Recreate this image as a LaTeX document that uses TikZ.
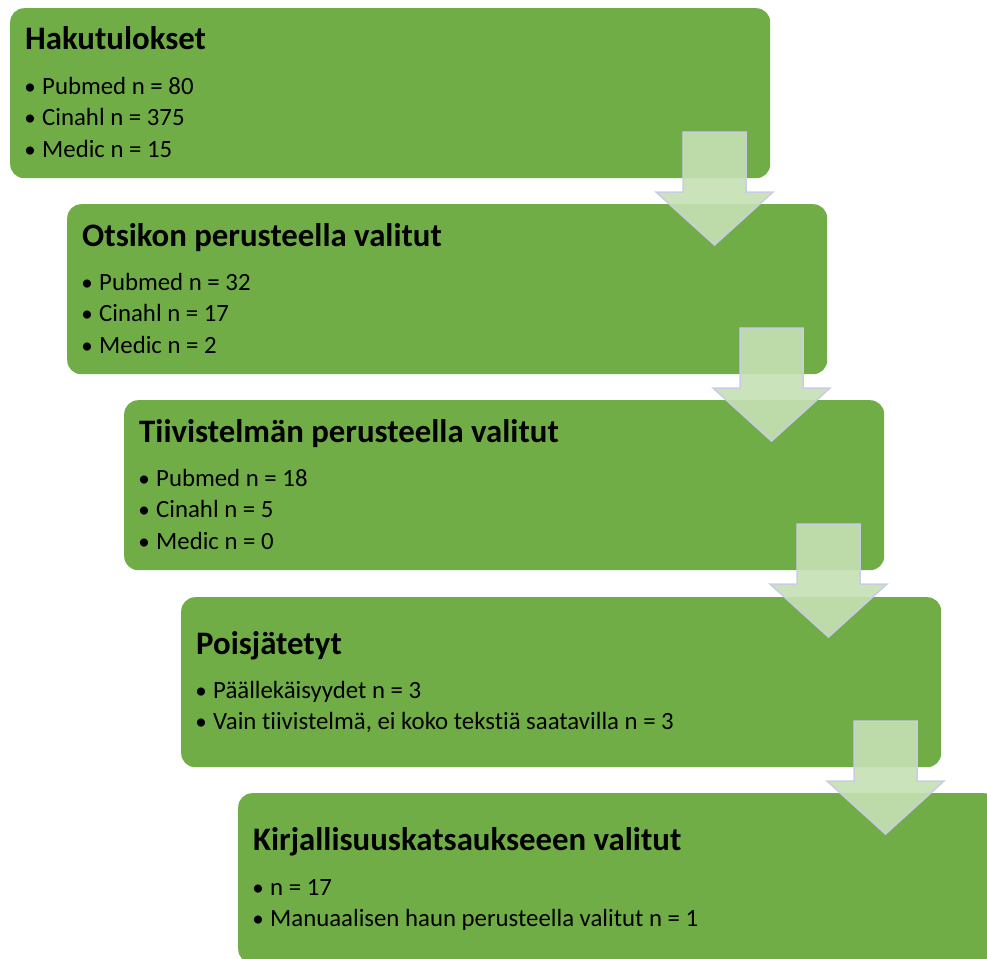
\documentclass[tikz,border=0pt]{standalone}
\usepackage{fontspec}
\setmainfont{Carlito}[Ligatures={NoCommon}]
\usetikzlibrary{calc}
\definecolor{boxgreen}{HTML}{70AD47}
\definecolor{arrowfill}{HTML}{C5E0B4}
\definecolor{arrowline}{HTML}{C9CCE4}
\tikzset{
  box/.style={fill=boxgreen, draw=none, rounded corners=14pt, minimum width=760pt, minimum height=170pt, inner sep=0pt, anchor=north west},
  ttl/.style={anchor=base west, inner sep=0pt, font=\fontsize{32.8}{38}\selectfont\bfseries},
  itm/.style={anchor=base west, inner sep=0pt, font=\fontsize{24.8}{29}\selectfont},
  dot/.style={anchor=base, inner sep=0pt, font=\fontsize{23}{27}\selectfont},
  blockarrow/.style={fill=arrowfill, fill opacity=0.9, draw=arrowline, line width=1.5pt, line join=miter}
}
\begin{document}
\begin{tikzpicture}[x=1pt, y=-1pt]
\useasboundingbox (0,0) rectangle (987,958);
\clip (0,0) rectangle (987,958);
% boxes
\node[box] (b1) at (10,8) {};
\node[box] (b2) at (67,204) {};
\node[box] (b3) at (124,400) {};
\node[box] (b4) at (181,597) {};
\node[box] (b5) at (238,793) {};
% box 1
\node[ttl] (t1) at ($(b1.north west)+(15,42)$) {Hakutulokset};
\node[dot] (d1a) at ($(b1.north west)+(20,86)$) {•};
\node[itm] (i1a) at ($(b1.north west)+(32,86)$) {Pubmed n = 80};
\node[dot] (d1b) at ($(b1.north west)+(20,117.5)$) {•};
\node[itm] (i1b) at ($(b1.north west)+(32,117.5)$) {Cinahl n = 375};
\node[dot] (d1c) at ($(b1.north west)+(20,149)$) {•};
\node[itm] (i1c) at ($(b1.north west)+(32,149)$) {Medic n = 15};
% box 2
\node[ttl] (t2) at ($(b2.north west)+(15,42)$) {Otsikon perusteella valitut};
\node[dot] (d2a) at ($(b2.north west)+(20,86)$) {•};
\node[itm] (i2a) at ($(b2.north west)+(32,86)$) {Pubmed n = 32};
\node[dot] (d2b) at ($(b2.north west)+(20,117.5)$) {•};
\node[itm] (i2b) at ($(b2.north west)+(32,117.5)$) {Cinahl n = 17};
\node[dot] (d2c) at ($(b2.north west)+(20,149)$) {•};
\node[itm] (i2c) at ($(b2.north west)+(32,149)$) {Medic n = 2};
% box 3
\node[ttl] (t3) at ($(b3.north west)+(15,42)$) {Tiivistelmän perusteella valitut};
\node[dot] (d3a) at ($(b3.north west)+(20,86)$) {•};
\node[itm] (i3a) at ($(b3.north west)+(32,86)$) {Pubmed n = 18};
\node[dot] (d3b) at ($(b3.north west)+(20,117.5)$) {•};
\node[itm] (i3b) at ($(b3.north west)+(32,117.5)$) {Cinahl n = 5};
\node[dot] (d3c) at ($(b3.north west)+(20,149)$) {•};
\node[itm] (i3c) at ($(b3.north west)+(32,149)$) {Medic n = 0};
% box 4
\node[ttl] (t4) at ($(b4.north west)+(15,57)$) {Poisjätetyt};
\node[dot] (d4a) at ($(b4.north west)+(20,101)$) {•};
\node[itm] (i4a) at ($(b4.north west)+(32,101)$) {Päällekäisyydet n = 3};
\node[dot] (d4b) at ($(b4.north west)+(20,132)$) {•};
\node[itm] (i4b) at ($(b4.north west)+(32,132)$) {Vain tiivistelmä, ei koko tekstiä saatavilla n = 3};
% box 5
\node[ttl] (t5) at ($(b5.north west)+(15,57)$) {Kirjallisuuskatsaukseeen valitut};
\node[dot] (d5a) at ($(b5.north west)+(20,102)$) {•};
\node[itm] (i5a) at ($(b5.north west)+(32,102)$) {n = 17};
\node[dot] (d5b) at ($(b5.north west)+(20,133)$) {•};
\node[itm] (i5b) at ($(b5.north west)+(32,133)$) {Manuaalisen haun perusteella valitut n = 1};
% arrows
\foreach \b in {b1,b2,b3,b4}{
  \draw[blockarrow]
    ($(\b.north west)+(673,124)$) -- ($(\b.north west)+(736,124)$) --
    ($(\b.north west)+(736,184)$) -- ($(\b.north west)+(763,184)$) --
    ($(\b.north west)+(704.5,237)$) -- ($(\b.north west)+(646,184)$) --
    ($(\b.north west)+(673,184)$) -- cycle;
}
\end{tikzpicture}
\end{document}
